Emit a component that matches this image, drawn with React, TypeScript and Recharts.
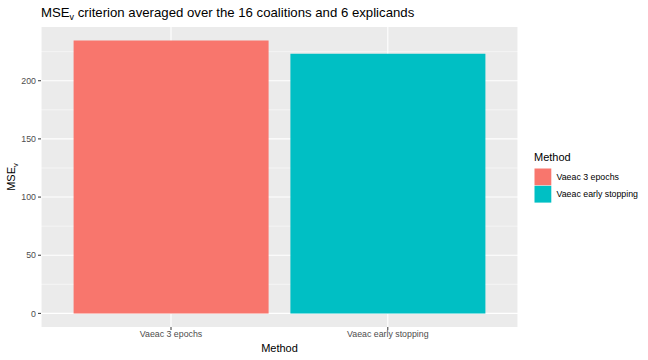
import React from "react";
import { BarChart, Bar, XAxis, YAxis, CartesianGrid, Cell } from "recharts";

const methods = ["Vaeac 3 epochs", "Vaeac early stopping"];
const mseValues = [234.5, 223.3];
const barColors = ["#F8766D", "#00BFC4"];
const yTicks = [0, 50, 100, 150, 200];
const yMinor = [25, 75, 125, 175, 225];

const data = methods.map((m, i) => ({ method: m, mse: mseValues[i] }));

const FONT = "'Liberation Sans', Arial, sans-serif";

const App = () => {
  return (
    <div style={{ position: "absolute", left: 0, top: 0, width: 648, height: 360, background: "#fff" }}>
      <BarChart
        width={648}
        height={360}
        data={data}
        margin={{ top: 27, right: 130, bottom: 0, left: 0 }}
        barSize={195}
      >
        <CartesianGrid
          fill="#EBEBEB"
          stroke="#FFFFFF"
          strokeWidth={0.5}
          vertical={false}
          horizontalValues={yMinor}
        />
        <CartesianGrid stroke="#FFFFFF" strokeWidth={1.1} horizontalValues={yTicks} />
        <XAxis
          dataKey="method"
          height={33}
          padding={{ left: 21.6, right: 21.8 }}
          axisLine={false}
          tickLine={{ stroke: "#333333" }}
          tickSize={3}
          tickMargin={1}
          tick={{ fill: "#4D4D4D", fontSize: 8.8, fontFamily: FONT }}
        />
        <YAxis
          width={41}
          domain={[-11.7, 246.2]}
          ticks={yTicks}
          allowDataOverflow
          axisLine={false}
          tickLine={{ stroke: "#333333" }}
          tickSize={3}
          tickMargin={2}
          tick={{ fill: "#4D4D4D", fontSize: 8.8, fontFamily: FONT }}
        />
        <Bar dataKey="mse" isAnimationActive={false}>
          {data.map((d, i) => (
            <Cell key={d.method} fill={barColors[i]} />
          ))}
        </Bar>
      </BarChart>
      <svg
        width={648}
        height={360}
        style={{ position: "absolute", left: 0, top: 0, pointerEvents: "none" }}
        fontFamily={FONT}
      >
        <text x={41} y={17} fontSize={13.2} fill="#000">
          MSE<tspan fontSize={9} dy={3}>v</tspan>
          <tspan dy={-3}> criterion averaged over the 16 coalitions and 6 explicands</tspan>
        </text>
        <text x={279.5} y={352} fontSize={11} fill="#000" textAnchor="middle">
          Method
        </text>
        <text transform="translate(15,177) rotate(-90)" fontSize={11} fill="#000" textAnchor="middle">
          MSE<tspan fontSize={7.5} dy={2.5}>v</tspan>
        </text>
        <text x={534} y={161} fontSize={11} fill="#000">
          Method
        </text>
        {methods.map((m, i) => (
          <g key={m}>
            <rect x={534.5} y={168.5 + i * 17.3} width={16.8} height={16.8} fill={barColors[i]} />
            <text x={556.5} y={180 + i * 17.3} fontSize={8.8} fill="#000">
              {m}
            </text>
          </g>
        ))}
      </svg>
    </div>
  );
};

export default App;
